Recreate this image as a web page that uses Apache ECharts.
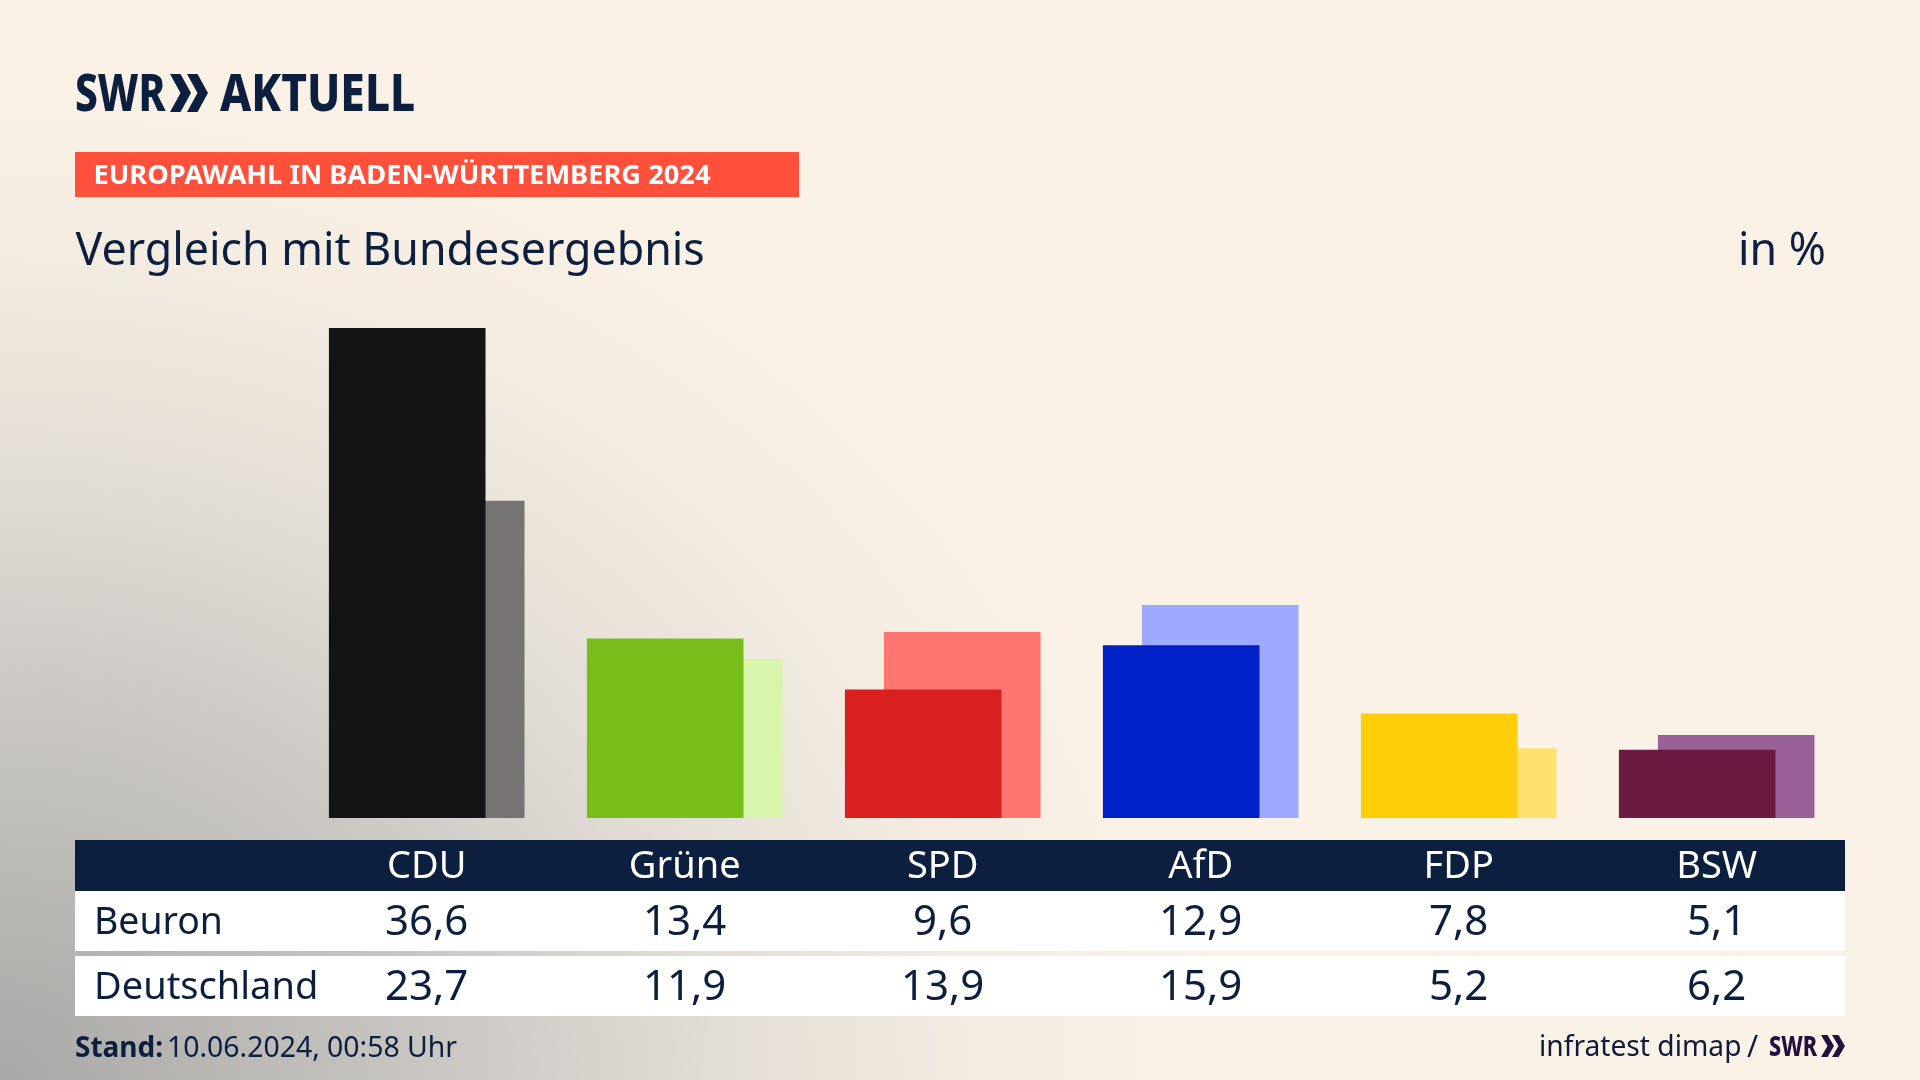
<!DOCTYPE html>
<html><head><meta charset="utf-8">
<style>
html,body{margin:0;padding:0;width:1920px;height:1080px;overflow:hidden;
background:radial-gradient(ellipse 1190px 1010px at 0 100%,#a8a8a6 0%,#cbc8c4 38%,#e2ddd6 60%,#f4ece1 82%,#faf2e6 100%),#faf2e6;}
#c{width:1920px;height:1080px;}
</style>
<script src="https://cdn.jsdelivr.net/npm/echarts@6/dist/echarts.min.js"></script>
</head><body><div id="c"></div>
<script>
const parties = ['CDU','Grüne','SPD','AfD','FDP','BSW'];
const beuron = [36.6,13.4,9.6,12.9,7.8,5.1];
const deutschland = [23.7,11.9,13.9,15.9,5.2,6.2];
const darkColors = ['#141414','#78be1a','#d9201e','#0020c8','#ffcd0a','#6b1a40'];
const lightColors = ['#757472','#d7f5ab','#ff7571','#9eaaff','#ffe170','#9a6098'];
const rowNames = ['Beuron','Deutschland'];

const NAVY='#0c1f3f', FONT='"Noto Sans"';
const fmt = v => v.toFixed(1).replace('.',',');
const chart = echarts.init(document.getElementById('c'),null,{renderer:'canvas',width:1920,height:1080});

function tableAxis(data,offset,color,size){
  return {type:'category',data,position:'bottom',offset,z:10,
    axisLine:{show:false},axisTick:{show:false},splitLine:{show:false},
    axisLabel:{interval:0,margin:0,verticalAlign:'middle',align:'center',
      color,fontFamily:FONT,fontSize:size,fontWeight:400}};
}
function txt(x,y,text,size,color,extra,scaleX){
  return {type:'text',x,y,z:5,scaleX:scaleX||1,style:Object.assign({text,fontFamily:FONT,fontSize:size,fill:color,verticalAlign:'middle',align:'left'},extra||{})};
}
function chevron(x,y,w,h,color){
  return {type:'polygon',z:5,shape:{points:[[x,y],[x+w*0.5,y],[x+w,y+h/2],[x+w*0.5,y+h],[x,y+h],[x+w*0.5,y+h/2]]},style:{fill:color}};
}
const graphic=[
  {type:'rect',z:1,shape:{x:75,y:840,width:1770,height:51},style:{fill:NAVY}},
  {type:'rect',z:1,shape:{x:75,y:891,width:1770,height:60},style:{fill:'#ffffff'}},
  {type:'rect',z:1,shape:{x:75,y:956,width:1770,height:60},style:{fill:'#ffffff'}},
  {type:'rect',z:1,shape:{x:75,y:152,width:724,height:45},style:{fill:'#ff503c'}},
  txt(75,96.5,'SWR',52,NAVY,{fontWeight:800},0.78),
  chevron(170,74,21,38,NAVY),chevron(187,74,21,38,NAVY),
  txt(220,96.5,'AKTUELL',52,NAVY,{fontWeight:800},0.85),
  txt(93.5,176,'EUROPAWAHL IN BADEN-WÜRTTEMBERG 2024',27.25,'#ffffff',{fontWeight:700}),
  txt(75.5,252,'Vergleich mit Bundesergebnis',46,NAVY,null,0.972),
  txt(1826,252,'in %',46,NAVY,{align:'right'},0.972),
  txt(94,923,rowNames[0],37.4,NAVY),
  txt(94,988,rowNames[1],38,NAVY),
  txt(75,1049,'Stand:',28,NAVY,{fontWeight:700}),
  txt(167,1049,'10.06.2024, 00:58 Uhr',28.4,NAVY),
  txt(1539,1048,'infratest dimap',28.2,'#101a3a'),
  txt(1747,1048,'/',30,'#101a3a'),
  txt(1769,1048,'SWR',28,'#24103f',{fontWeight:800},0.77),
  chevron(1821,1035,13,22,'#24103f'),chevron(1832,1035,13,22,'#24103f')
];
chart.setOption({
  animation:false,
  backgroundColor:'transparent',
  grid:{left:297.7,width:1548,top:282.4,height:535.6,containLabel:false},
  graphic,
  xAxis:[
    {type:'category',data:parties,show:false},
    tableAxis(parties,49,'#ffffff',38),
    tableAxis(beuron.map(fmt),105.5,NAVY,42),
    tableAxis(deutschland.map(fmt),170.5,NAVY,42)
  ],
  yAxis:{type:'value',min:0,max:40,show:false},
  series:[
    {type:'bar',name:rowNames[0],xAxisIndex:0,z:3,barWidth:156.6,barGap:'-75.1%',
     data:beuron.map((v,i)=>({value:v,itemStyle:{color:darkColors[i]}}))},
    {type:'bar',name:rowNames[1],xAxisIndex:0,z:2,barWidth:156.6,barGap:'-75.1%',
     data:deutschland.map((v,i)=>({value:v,itemStyle:{color:lightColors[i]}}))}
  ]
});
</script></body></html>
